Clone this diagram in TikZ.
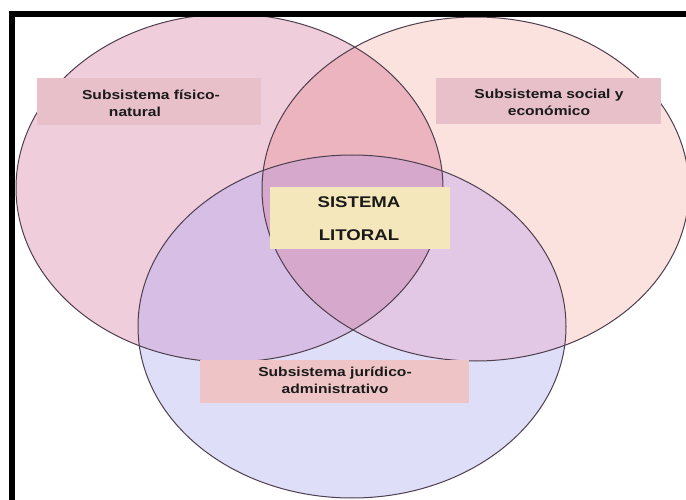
\documentclass[tikz,border=0pt]{standalone}
\usepackage{fontspec}
\setmainfont{Liberation Sans}
\usepackage{graphicx}
\definecolor{cL}{HTML}{F0CDDA}
\definecolor{cR}{HTML}{FCE2DE}
\definecolor{cB}{HTML}{DEDEF8}
\definecolor{cLR}{HTML}{ECB4BE}
\definecolor{cLB}{HTML}{D6BEE4}
\definecolor{cRB}{HTML}{E2C8E4}
\definecolor{cLRB}{HTML}{D6A8CC}
\definecolor{edge}{HTML}{4E3E4E}
\definecolor{boxpink}{HTML}{E8C0CA}
\definecolor{boxsal}{HTML}{EEC4C6}
\definecolor{boxcream}{HTML}{F5E7BC}
\definecolor{ink}{HTML}{1A1A1A}
\newcommand{\wtext}[1]{\scalebox{1.2}[1]{#1}}
\newcommand{\shapeL}{(229.5,188) ellipse [x radius=213.5, y radius=174]}
\newcommand{\shapeR}{(475.5,189) ellipse [x radius=213.5, y radius=172]}
\newcommand{\shapeB}{(352,326.5) ellipse [x radius=214, y radius=171.5]}
\tikzset{
  ring/.style={draw=edge, line width=1pt},
  labelbox/.style={inner sep=0pt, text=ink, font=\bfseries\fontsize{13}{17}\selectfont, align=center},
}
\begin{document}
\begin{tikzpicture}[x=1pt, y=-1pt]
\clip (0,0) rectangle (686,500);
\fill[white] (0,0) rectangle (686,500);
% single-set regions
\fill[cL] \shapeL;
\fill[cR] \shapeR;
\fill[cB] \shapeB;
% pairwise overlaps
\begin{scope}
  \clip \shapeL;
  \fill[cLR] \shapeR;
  \fill[cLB] \shapeB;
\end{scope}
\begin{scope}
  \clip \shapeR;
  \fill[cRB] \shapeB;
\end{scope}
% triple overlap
\begin{scope}
  \clip \shapeL;
  \clip \shapeR;
  \fill[cLRB] \shapeB;
\end{scope}
% outlines
\draw[ring] \shapeL;
\draw[ring] \shapeR;
\draw[ring] \shapeB;
% label boxes
\node[fill=boxpink, minimum width=224pt, minimum height=47pt] (bfis) at (149,102) {};
\node[fill=boxpink, minimum width=225pt, minimum height=46pt] (bsoc) at (548.5,101) {};
\node[fill=boxcream, minimum width=180pt, minimum height=62pt] (blit) at (360,218) {};
\node[fill=boxsal, minimum width=269pt, minimum height=43pt] (bjur) at (334.5,381.5) {};
\node[labelbox] (tfis) at (151,103) {\wtext{Subsistema físico-}\\\wtext{natural}\makebox[32pt]{}};
\node[labelbox] (tsoc) at (549,102) {\wtext{Subsistema social y}\\\wtext{económico}};
\node[labelbox, font=\bfseries\fontsize{15.5}{33}\selectfont] (tlit) at (359,219) {\wtext{SISTEMA}\\\wtext{LITORAL}};
\node[labelbox] (tjur) at (335,380) {\wtext{Subsistema jurídico-}\\\wtext{administrativo}};
% frame
\draw[black, line width=6.5pt] (12,14) rectangle (720,540);
\end{tikzpicture}
\end{document}
